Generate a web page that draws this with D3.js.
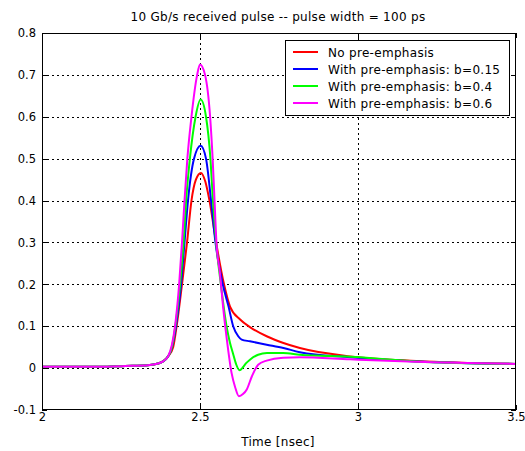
<!DOCTYPE html>
<html><head><meta charset="utf-8">
<script src="https://cdn.jsdelivr.net/npm/d3@7"></script>
<style>
html,body{margin:0;padding:0;background:#fff;}
text{font-family:"DejaVu Sans",sans-serif;fill:#000;}
</style></head>
<body><svg id="c" width="525" height="451"></svg>
<script>
const title = "10 Gb/s received pulse -- pulse width = 100 ps";
const xLabel = "Time [nsec]";
const xTicks = [2, 2.5, 3, 3.5];
const xTickLabels = ["2", "2.5", "3", "3.5"];
const yTicks = [-0.1, 0, 0.1, 0.2, 0.3, 0.4, 0.5, 0.6, 0.7, 0.8];
const yTickLabels = ["-0.1", "0", "0.1", "0.2", "0.3", "0.4", "0.5", "0.6", "0.7", "0.8"];
const seriesNames = ["No pre-emphasis", "With pre-emphasis: b=0.15", "With pre-emphasis: b=0.4", "With pre-emphasis: b=0.6"];
const seriesColors = ["#ff0000", "#0000ff", "#00ff00", "#ff00ff"];

// shared baseline toe
const toeT = [2.000, 2.184, 2.263, 2.335, 2.367, 2.383, 2.399];
const toeV = [0.003, 0.003, 0.005, 0.007, 0.011, 0.016, 0.028];

const redT = [2.415, 2.426, 2.443, 2.459, 2.473, 2.487, 2.503, 2.517, 2.530, 2.551, 2.576, 2.595, 2.627, 2.658, 2.711, 2.764, 2.816, 2.975, 3.184, 3.500];
const redV = [0.050, 0.100, 0.200, 0.300, 0.400, 0.450, 0.466, 0.445, 0.400, 0.300, 0.200, 0.147, 0.116, 0.098, 0.076, 0.060, 0.048, 0.028, 0.017, 0.010];

const blueT = [2.411, 2.424, 2.440, 2.451, 2.462, 2.481, 2.502, 2.519, 2.535, 2.549, 2.572, 2.590, 2.605, 2.621, 2.632, 2.658, 2.711, 2.764, 2.816, 2.975, 3.184, 3.500];
const blueV = [0.048, 0.100, 0.200, 0.300, 0.400, 0.500, 0.531, 0.500, 0.400, 0.300, 0.200, 0.148, 0.100, 0.076, 0.068, 0.064, 0.056, 0.048, 0.038, 0.026, 0.016, 0.010];

const greenT = [2.411, 2.422, 2.437, 2.448, 2.456, 2.468, 2.486, 2.502, 2.519, 2.533, 2.541, 2.551, 2.566, 2.584, 2.595, 2.604, 2.614, 2.625, 2.636, 2.646, 2.658, 2.684, 2.712, 2.763, 2.816, 2.975, 3.184, 3.500];
const greenV = [0.050, 0.100, 0.200, 0.300, 0.400, 0.500, 0.600, 0.641, 0.600, 0.500, 0.400, 0.300, 0.200, 0.100, 0.060, 0.036, 0.010, -0.005, 0.002, 0.012, 0.020, 0.032, 0.036, 0.036, 0.032, 0.027, 0.016, 0.010];

const magT = [2.411, 2.421, 2.434, 2.443, 2.451, 2.460, 2.473, 2.491, 2.500, 2.516, 2.532, 2.540, 2.546, 2.552, 2.563, 2.573, 2.585, 2.600, 2.611, 2.623, 2.636, 2.648, 2.664, 2.684, 2.711, 2.763, 2.816, 2.975, 3.184, 3.500];
const magV = [0.055, 0.100, 0.200, 0.300, 0.400, 0.500, 0.600, 0.700, 0.725, 0.700, 0.600, 0.500, 0.400, 0.300, 0.227, 0.147, 0.068, -0.012, -0.045, -0.067, -0.062, -0.051, -0.020, 0.008, 0.018, 0.025, 0.026, 0.021, 0.015, 0.010];

const seriesT = [redT, blueT, greenT, magT];
const seriesV = [redV, blueV, greenV, magV];

const svg = d3.select("#c");
const L = 42, R = 516, T = 33, B = 410;
const x = d3.scaleLinear().domain([2, 3.5]).range([L, R]);
const y = d3.scaleLinear().domain([-0.1, 0.8]).range([B, T]);

// grid
const grid = svg.append("g").attr("stroke", "#000").attr("stroke-width", 1).attr("stroke-dasharray", "2,3").attr("shape-rendering", "crispEdges");
xTicks.slice(1, -1).forEach(v => grid.append("line").attr("x1", Math.round(x(v)) + 0.5).attr("x2", Math.round(x(v)) + 0.5).attr("y1", T).attr("y2", B));
yTicks.slice(1, -1).forEach(v => grid.append("line").attr("y1", Math.round(y(v)) + 0.5).attr("y2", Math.round(y(v)) + 0.5).attr("x1", L).attr("x2", R));

// lines
const line = d3.line().x(d => x(d[0])).y(d => y(d[1])).curve(d3.curveMonotoneX);
seriesT.forEach((ts, i) => {
  const pts = toeT.map((t, j) => [t, toeV[j]]).concat(ts.map((t, j) => [t, seriesV[i][j]]));
  svg.append("path").attr("d", line(pts)).attr("fill", "none").attr("stroke", seriesColors[i]).attr("stroke-width", 2).attr("stroke-linejoin", "round");
});

// axes
const fmtX = (d, i) => xTickLabels[i];
const fmtY = (d, i) => yTickLabels[i];
const axB = svg.append("g").attr("transform", `translate(0,${B})`).call(d3.axisBottom(x).tickValues(xTicks).tickFormat(fmtX).tickSizeInner(-5).tickSizeOuter(0).tickPadding(3));
const axT = svg.append("g").attr("transform", `translate(0,${T})`).call(d3.axisTop(x).tickValues(xTicks).tickFormat("").tickSizeInner(-5).tickSizeOuter(0));
const axL = svg.append("g").attr("transform", `translate(${L},0)`).call(d3.axisLeft(y).tickValues(yTicks).tickFormat(fmtY).tickSizeInner(-5).tickSizeOuter(0).tickPadding(6));
const axR = svg.append("g").attr("transform", `translate(${R},0)`).call(d3.axisRight(y).tickValues(yTicks).tickFormat("").tickSizeInner(-5).tickSizeOuter(0));
[axB, axT, axL, axR].forEach(a => { a.select(".domain").remove(); a.selectAll("text").attr("font-size", 11.5).attr("font-family", "DejaVu Sans"); a.selectAll("line").attr("shape-rendering", "crispEdges"); });
svg.append("rect").attr("x", L + 0.5).attr("y", T + 0.5).attr("width", R - L - 1).attr("height", B - T - 1).attr("fill", "none").attr("stroke", "#000").attr("stroke-width", 1).attr("shape-rendering", "crispEdges");

// titles
svg.append("text").attr("x", 278).attr("y", 21).attr("text-anchor", "middle").attr("font-size", 12).attr("letter-spacing", 0.3).text(title);
svg.append("text").attr("x", 278).attr("y", 446).attr("text-anchor", "middle").attr("font-size", 12).attr("letter-spacing", 0.3).text(xLabel);

// legend
const lg = svg.append("g");
lg.append("rect").attr("x", 285.5).attr("y", 40.5).attr("width", 224).attr("height", 75).attr("fill", "#fff").attr("stroke", "#000").attr("shape-rendering", "crispEdges");
seriesNames.forEach((n, i) => {
  const cy = 52 + i * 17;
  lg.append("line").attr("x1", 293).attr("x2", 318).attr("y1", cy).attr("y2", cy).attr("stroke", seriesColors[i]).attr("stroke-width", 2);
  lg.append("text").attr("x", 328).attr("y", cy + 4.5).attr("font-size", 12).attr("letter-spacing", 0.3).text(n);
});
</script></body></html>
